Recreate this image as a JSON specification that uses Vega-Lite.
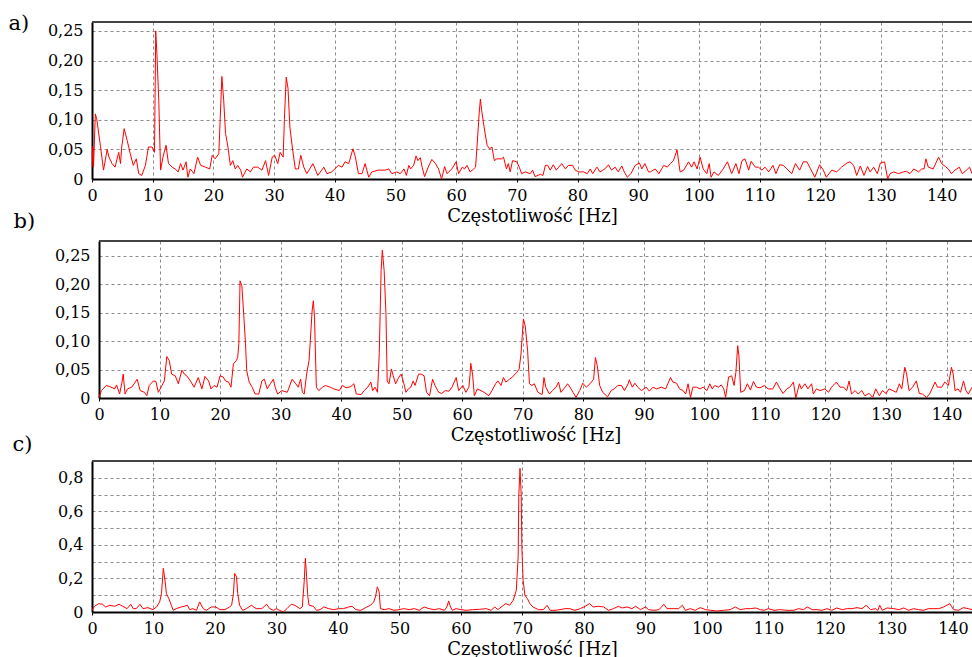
{
  "$schema": "https://vega.github.io/schema/vega-lite/v6.json",
  "background": "white",
  "padding": {"left": 8, "top": 12, "right": 0, "bottom": 0},
  "spacing": -15,
  "config": {
    "view": {"stroke": null},
    "font": "DejaVu Serif",
    "axis": {
      "labelFont": "DejaVu Serif",
      "titleFont": "DejaVu Serif",
      "labelColor": "#000",
      "titleColor": "#000",
      "titleFontWeight": "normal",
      "labelFontSize": 16,
      "labelOverlap": false,
      "gridDash": [3, 3],
      "gridColor": "#8a8a8a",
      "gridWidth": 1,
      "gridOpacity": 1,
      "domainColor": "#000",
      "domainWidth": 2,
      "tickColor": "#000"
    },
    "axisX": {"tickSize": 3, "labelPadding": 5, "titlePadding": 4, "titleFontSize": 18, "labelFlush": false},
    "axisY": {"ticks": false, "labelPadding": 9, "titleAngle": 0, "titleAlign": "left", "titleBaseline": "middle", "titleFontSize": 21}
  },
  "datasets": {
    "a": [
      {"f":0,"a":0.02},{"f":0.15,"a":0.055},{"f":0.25,"a":0.02},{"f":0.55,"a":0.11},{"f":0.8,"a":0.1},{"f":1.4,"a":0.055},{"f":1.9,"a":0.015},{"f":2.5,"a":0.05},{"f":2.8,"a":0.037},{"f":3.3,"a":0.026},{"f":3.8,"a":0.02},{"f":4.4,"a":0.045},{"f":4.7,"a":0.026},{"f":4.9,"a":0.054},{"f":5.3,"a":0.085},{"f":5.8,"a":0.065},{"f":6.3,"a":0.043},{"f":6.8,"a":0.023},{"f":7.3,"a":0.034},{"f":7.7,"a":0.009},{"f":8.2,"a":0.006},{"f":8.8,"a":0.023},{"f":9.3,"a":0.054},{"f":9.9,"a":0.054},{"f":10.3,"a":0.045},{"f":10.5,"a":0.25},{"f":10.7,"a":0.21},{"f":11.0,"a":0.133},{"f":11.3,"a":0.015},{"f":11.7,"a":0.037},{"f":12.2,"a":0.057},{"f":12.6,"a":0.026},{"f":13.2,"a":0.02},{"f":13.7,"a":0.017},{"f":14.2,"a":0.012},{"f":14.6,"a":0.026},{"f":15.0,"a":0.015},{"f":15.5,"a":0.029},{"f":15.8,"a":0.003},{"f":16.2,"a":0.017},{"f":16.8,"a":0.009},{"f":17.4,"a":0.037},{"f":17.9,"a":0.023},{"f":18.7,"a":0.02},{"f":19.4,"a":0.017},{"f":19.8,"a":0.04},{"f":20.3,"a":0.034},{"f":20.9,"a":0.043},{"f":21.15,"a":0.108},{"f":21.4,"a":0.173},{"f":21.7,"a":0.133},{"f":22.0,"a":0.077},{"f":22.4,"a":0.054},{"f":22.8,"a":0.023},{"f":23.2,"a":0.031},{"f":23.6,"a":0.017},{"f":24.0,"a":0.023},{"f":24.5,"a":0.015},{"f":24.8,"a":0.003},{"f":25.5,"a":0.017},{"f":26.1,"a":0.012},{"f":26.6,"a":0.02},{"f":27.3,"a":0.02},{"f":28.0,"a":0.015},{"f":28.6,"a":0.031},{"f":29.1,"a":0.006},{"f":29.7,"a":0.037},{"f":30.1,"a":0.04},{"f":30.6,"a":0.026},{"f":31.0,"a":0.045},{"f":31.5,"a":0.037},{"f":31.7,"a":0.1},{"f":32.0,"a":0.172},{"f":32.3,"a":0.153},{"f":32.6,"a":0.088},{"f":33.0,"a":0.054},{"f":33.5,"a":0.017},{"f":34.0,"a":0.017},{"f":34.4,"a":0.04},{"f":34.9,"a":0.02},{"f":35.4,"a":0.009},{"f":36.4,"a":0.026},{"f":37.2,"a":0.006},{"f":38.2,"a":0.02},{"f":38.7,"a":0.009},{"f":39.5,"a":0.012},{"f":40.0,"a":0.017},{"f":40.6,"a":0.023},{"f":41.2,"a":0.02},{"f":41.7,"a":0.029},{"f":42.3,"a":0.026},{"f":43.0,"a":0.051},{"f":43.4,"a":0.037},{"f":43.9,"a":0.009},{"f":44.5,"a":0.009},{"f":45.0,"a":0.026},{"f":45.6,"a":0.003},{"f":46.1,"a":0.012},{"f":47.2,"a":0.015},{"f":48.3,"a":0.015},{"f":48.9,"a":0.017},{"f":49.4,"a":0.009},{"f":50.2,"a":0.012},{"f":50.8,"a":0.009},{"f":51.4,"a":0.017},{"f":51.8,"a":0.006},{"f":52.2,"a":0.023},{"f":52.5,"a":0.017},{"f":53.0,"a":0.023},{"f":53.4,"a":0.039},{"f":53.7,"a":0.031},{"f":54.1,"a":0.036},{"f":54.4,"a":0.02},{"f":54.8,"a":0.004},{"f":55.4,"a":0.02},{"f":56.0,"a":0.033},{"f":56.6,"a":0.026},{"f":57.1,"a":0.017},{"f":57.6,"a":0.0},{"f":58.1,"a":0.021},{"f":58.5,"a":0.009},{"f":59.3,"a":0.017},{"f":60.0,"a":0.029},{"f":60.4,"a":0.009},{"f":61.0,"a":0.02},{"f":61.4,"a":0.017},{"f":61.8,"a":0.023},{"f":62.3,"a":0.012},{"f":62.9,"a":0.017},{"f":63.2,"a":0.02},{"f":63.4,"a":0.049},{"f":63.8,"a":0.111},{"f":64.0,"a":0.135},{"f":64.2,"a":0.116},{"f":64.6,"a":0.088},{"f":65.1,"a":0.057},{"f":65.5,"a":0.051},{"f":65.9,"a":0.054},{"f":66.3,"a":0.031},{"f":66.7,"a":0.034},{"f":67.5,"a":0.034},{"f":67.8,"a":0.037},{"f":68.3,"a":0.017},{"f":68.6,"a":0.026},{"f":68.9,"a":0.012},{"f":69.3,"a":0.031},{"f":70.0,"a":0.029},{"f":70.4,"a":0.02},{"f":70.8,"a":0.009},{"f":71.4,"a":0.012},{"f":72.2,"a":0.009},{"f":72.6,"a":0.015},{"f":73.0,"a":0.004},{"f":73.9,"a":0.008},{"f":74.3,"a":0.006},{"f":74.7,"a":0.023},{"f":75.1,"a":0.023},{"f":75.5,"a":0.015},{"f":76.0,"a":0.024},{"f":76.5,"a":0.015},{"f":76.9,"a":0.02},{"f":77.4,"a":0.026},{"f":78.0,"a":0.017},{"f":78.5,"a":0.023},{"f":79.2,"a":0.023},{"f":79.6,"a":0.015},{"f":80.2,"a":0.012},{"f":81.0,"a":0.012},{"f":81.6,"a":0.009},{"f":82.1,"a":0.017},{"f":82.5,"a":0.009},{"f":83.2,"a":0.02},{"f":83.7,"a":0.012},{"f":84.5,"a":0.017},{"f":85.1,"a":0.024},{"f":85.6,"a":0.015},{"f":86.2,"a":0.02},{"f":86.7,"a":0.012},{"f":87.3,"a":0.022},{"f":87.7,"a":0.012},{"f":88.2,"a":0.003},{"f":88.8,"a":0.009},{"f":89.5,"a":0.023},{"f":90.2,"a":0.027},{"f":90.6,"a":0.017},{"f":91.1,"a":0.026},{"f":91.7,"a":0.012},{"f":92.0,"a":0.012},{"f":92.8,"a":0.017},{"f":93.4,"a":0.009},{"f":94.2,"a":0.023},{"f":94.8,"a":0.02},{"f":95.3,"a":0.026},{"f":95.8,"a":0.031},{"f":96.4,"a":0.049},{"f":96.9,"a":0.012},{"f":97.5,"a":0.015},{"f":98.3,"a":0.029},{"f":98.8,"a":0.02},{"f":99.2,"a":0.029},{"f":99.7,"a":0.017},{"f":100.2,"a":0.037},{"f":100.7,"a":0.017},{"f":101.3,"a":0.009},{"f":101.7,"a":0.026},{"f":102.0,"a":0.003},{"f":102.5,"a":0.012},{"f":103.2,"a":0.006},{"f":104.0,"a":0.017},{"f":104.7,"a":0.029},{"f":105.4,"a":0.009},{"f":106.1,"a":0.026},{"f":106.6,"a":0.009},{"f":107.1,"a":0.031},{"f":107.6,"a":0.034},{"f":108.2,"a":0.015},{"f":108.6,"a":0.03},{"f":109.3,"a":0.02},{"f":109.8,"a":0.02},{"f":110.4,"a":0.015},{"f":110.9,"a":0.02},{"f":111.5,"a":0.012},{"f":112.2,"a":0.023},{"f":112.7,"a":0.009},{"f":113.3,"a":0.024},{"f":113.9,"a":0.023},{"f":114.5,"a":0.017},{"f":115.3,"a":0.009},{"f":115.9,"a":0.026},{"f":116.6,"a":0.015},{"f":117.2,"a":0.029},{"f":117.8,"a":0.029},{"f":118.4,"a":0.017},{"f":119.1,"a":0.003},{"f":119.9,"a":0.024},{"f":120.5,"a":0.015},{"f":121.0,"a":0.003},{"f":121.9,"a":0.015},{"f":122.7,"a":0.012},{"f":123.5,"a":0.02},{"f":124.4,"a":0.027},{"f":124.9,"a":0.029},{"f":125.5,"a":0.023},{"f":126.0,"a":0.006},{"f":126.6,"a":0.022},{"f":127.2,"a":0.006},{"f":127.8,"a":0.021},{"f":128.2,"a":0.012},{"f":128.8,"a":0.02},{"f":129.4,"a":0.009},{"f":129.9,"a":0.027},{"f":130.6,"a":0.029},{"f":131.1,"a":0.0},{"f":131.5,"a":0.009},{"f":132.1,"a":0.012},{"f":132.9,"a":0.009},{"f":133.7,"a":0.012},{"f":134.2,"a":0.013},{"f":134.8,"a":0.009},{"f":135.4,"a":0.017},{"f":136.2,"a":0.012},{"f":136.7,"a":0.017},{"f":137.1,"a":0.017},{"f":137.4,"a":0.034},{"f":137.8,"a":0.02},{"f":138.6,"a":0.017},{"f":139.5,"a":0.037},{"f":140.0,"a":0.026},{"f":140.6,"a":0.021},{"f":141.1,"a":0.017},{"f":141.6,"a":0.009},{"f":142.2,"a":0.015},{"f":142.9,"a":0.02},{"f":143.4,"a":0.009},{"f":144.1,"a":0.015},{"f":144.6,"a":0.02},{"f":145,"a":0.009}
    ],
    "b": [
      {"f":0,"a":0.001},{"f":0.4,"a":0.013},{"f":1.2,"a":0.022},{"f":1.8,"a":0.02},{"f":2.6,"a":0.016},{"f":2.9,"a":0.023},{"f":3.4,"a":0.007},{"f":3.8,"a":0.028},{"f":4.0,"a":0.042},{"f":4.3,"a":0.007},{"f":4.7,"a":0.016},{"f":5.4,"a":0.019},{"f":6.0,"a":0.028},{"f":6.3,"a":0.033},{"f":6.8,"a":0.013},{"f":7.5,"a":0.01},{"f":7.9,"a":0.004},{"f":8.3,"a":0.022},{"f":9.0,"a":0.03},{"f":9.4,"a":0.029},{"f":9.8,"a":0.01},{"f":10.4,"a":0.022},{"f":10.8,"a":0.03},{"f":11.2,"a":0.073},{"f":11.6,"a":0.066},{"f":12.0,"a":0.042},{"f":12.6,"a":0.039},{"f":13.1,"a":0.025},{"f":13.7,"a":0.049},{"f":14.1,"a":0.042},{"f":14.5,"a":0.039},{"f":15.1,"a":0.03},{"f":15.7,"a":0.019},{"f":16.4,"a":0.036},{"f":17.0,"a":0.016},{"f":17.5,"a":0.038},{"f":18.1,"a":0.03},{"f":18.5,"a":0.016},{"f":19.0,"a":0.022},{"f":19.5,"a":0.019},{"f":20.0,"a":0.039},{"f":20.5,"a":0.037},{"f":20.9,"a":0.03},{"f":21.4,"a":0.028},{"f":21.8,"a":0.019},{"f":22.2,"a":0.06},{"f":22.7,"a":0.066},{"f":22.9,"a":0.071},{"f":23.1,"a":0.095},{"f":23.3,"a":0.206},{"f":23.6,"a":0.197},{"f":23.9,"a":0.148},{"f":24.2,"a":0.095},{"f":24.4,"a":0.048},{"f":24.8,"a":0.028},{"f":25.3,"a":0.019},{"f":25.8,"a":0.007},{"f":26.4,"a":0.007},{"f":26.9,"a":0.03},{"f":27.3,"a":0.033},{"f":27.8,"a":0.016},{"f":28.3,"a":0.025},{"f":28.8,"a":0.033},{"f":29.1,"a":0.019},{"f":29.5,"a":0.007},{"f":30.2,"a":0.013},{"f":31.1,"a":0.01},{"f":31.9,"a":0.033},{"f":32.5,"a":0.025},{"f":32.9,"a":0.019},{"f":33.3,"a":0.033},{"f":33.6,"a":0.01},{"f":33.9,"a":0.007},{"f":34.3,"a":0.042},{"f":34.7,"a":0.066},{"f":34.9,"a":0.1},{"f":35.2,"a":0.153},{"f":35.4,"a":0.171},{"f":35.6,"a":0.142},{"f":35.9,"a":0.019},{"f":36.3,"a":0.013},{"f":36.9,"a":0.019},{"f":37.4,"a":0.022},{"f":38.2,"a":0.019},{"f":38.8,"a":0.016},{"f":39.7,"a":0.013},{"f":40.2,"a":0.022},{"f":40.8,"a":0.018},{"f":41.6,"a":0.02},{"f":42.1,"a":0.025},{"f":42.5,"a":0.007},{"f":43.3,"a":0.006},{"f":43.8,"a":0.013},{"f":44.4,"a":0.019},{"f":44.9,"a":0.028},{"f":45.2,"a":0.013},{"f":45.6,"a":0.019},{"f":46.0,"a":0.01},{"f":46.3,"a":0.08},{"f":46.6,"a":0.224},{"f":46.8,"a":0.26},{"f":47.1,"a":0.224},{"f":47.4,"a":0.148},{"f":47.6,"a":0.03},{"f":47.9,"a":0.025},{"f":48.3,"a":0.051},{"f":48.6,"a":0.039},{"f":49.0,"a":0.025},{"f":49.5,"a":0.036},{"f":49.9,"a":0.042},{"f":50.3,"a":0.028},{"f":50.7,"a":0.01},{"f":51.1,"a":0.016},{"f":51.5,"a":0.019},{"f":51.9,"a":0.03},{"f":52.2,"a":0.022},{"f":52.8,"a":0.042},{"f":53.2,"a":0.042},{"f":53.7,"a":0.039},{"f":54.1,"a":0.01},{"f":54.6,"a":0.004},{"f":55.1,"a":0.033},{"f":55.5,"a":0.022},{"f":56.1,"a":0.01},{"f":56.6,"a":0.008},{"f":57.2,"a":0.013},{"f":57.8,"a":0.012},{"f":58.3,"a":0.019},{"f":59.0,"a":0.036},{"f":59.4,"a":0.013},{"f":60.1,"a":0.022},{"f":60.6,"a":0.01},{"f":61.1,"a":0.019},{"f":61.3,"a":0.042},{"f":61.4,"a":0.061},{"f":61.7,"a":0.042},{"f":62.0,"a":0.004},{"f":62.5,"a":0.016},{"f":63.1,"a":0.013},{"f":63.6,"a":0.01},{"f":64.4,"a":0.004},{"f":64.9,"a":0.013},{"f":65.5,"a":0.025},{"f":65.9,"a":0.03},{"f":66.4,"a":0.022},{"f":66.8,"a":0.036},{"f":67.2,"a":0.028},{"f":67.8,"a":0.033},{"f":68.3,"a":0.037},{"f":69.0,"a":0.045},{"f":69.4,"a":0.051},{"f":69.7,"a":0.077},{"f":70.1,"a":0.139},{"f":70.4,"a":0.127},{"f":70.8,"a":0.083},{"f":71.1,"a":0.025},{"f":71.5,"a":0.022},{"f":71.9,"a":0.025},{"f":72.5,"a":0.01},{"f":73.2,"a":0.006},{"f":73.5,"a":0.036},{"f":73.8,"a":0.019},{"f":74.4,"a":0.007},{"f":74.9,"a":0.013},{"f":75.5,"a":0.019},{"f":75.9,"a":0.028},{"f":76.3,"a":0.01},{"f":77.0,"a":0.019},{"f":77.4,"a":0.025},{"f":77.8,"a":0.019},{"f":78.3,"a":0.01},{"f":78.8,"a":0.001},{"f":79.4,"a":0.013},{"f":79.9,"a":0.026},{"f":80.5,"a":0.019},{"f":81.1,"a":0.025},{"f":81.7,"a":0.033},{"f":82.0,"a":0.071},{"f":82.3,"a":0.057},{"f":82.7,"a":0.022},{"f":83.2,"a":0.01},{"f":84.0,"a":0.002},{"f":84.6,"a":0.013},{"f":85.1,"a":0.016},{"f":85.7,"a":0.022},{"f":86.3,"a":0.022},{"f":86.8,"a":0.013},{"f":87.4,"a":0.025},{"f":87.6,"a":0.032},{"f":88.1,"a":0.019},{"f":88.5,"a":0.026},{"f":89.0,"a":0.019},{"f":89.6,"a":0.013},{"f":90.4,"a":0.019},{"f":90.9,"a":0.012},{"f":91.5,"a":0.019},{"f":92.1,"a":0.016},{"f":92.9,"a":0.019},{"f":93.6,"a":0.016},{"f":94.4,"a":0.036},{"f":94.8,"a":0.028},{"f":95.4,"a":0.026},{"f":95.9,"a":0.016},{"f":96.5,"a":0.013},{"f":96.9,"a":0.007},{"f":97.3,"a":0.025},{"f":97.7,"a":0.001},{"f":98.1,"a":0.019},{"f":98.7,"a":0.019},{"f":99.3,"a":0.016},{"f":99.8,"a":0.019},{"f":100.4,"a":0.013},{"f":100.9,"a":0.025},{"f":101.3,"a":0.016},{"f":101.7,"a":0.022},{"f":102.3,"a":0.019},{"f":102.8,"a":0.023},{"f":103.2,"a":0.016},{"f":103.5,"a":0.001},{"f":104.0,"a":0.037},{"f":104.5,"a":0.039},{"f":104.9,"a":0.022},{"f":105.2,"a":0.045},{"f":105.5,"a":0.092},{"f":105.7,"a":0.074},{"f":106.0,"a":0.01},{"f":106.6,"a":0.013},{"f":107.1,"a":0.025},{"f":107.6,"a":0.014},{"f":108.1,"a":0.029},{"f":108.6,"a":0.019},{"f":109.2,"a":0.018},{"f":109.9,"a":0.022},{"f":110.5,"a":0.016},{"f":111.3,"a":0.016},{"f":111.9,"a":0.028},{"f":112.5,"a":0.016},{"f":113.0,"a":0.008},{"f":113.6,"a":0.016},{"f":114.1,"a":0.019},{"f":114.7,"a":0.028},{"f":115.1,"a":0.0},{"f":115.7,"a":0.025},{"f":116.0,"a":0.016},{"f":116.6,"a":0.025},{"f":117.1,"a":0.016},{"f":117.7,"a":0.025},{"f":118.0,"a":0.007},{"f":118.5,"a":0.016},{"f":119.1,"a":0.013},{"f":119.9,"a":0.016},{"f":120.5,"a":0.01},{"f":121.0,"a":0.019},{"f":121.8,"a":0.028},{"f":122.4,"a":0.019},{"f":123.0,"a":0.019},{"f":123.5,"a":0.013},{"f":123.9,"a":0.03},{"f":124.3,"a":0.007},{"f":124.9,"a":0.013},{"f":125.4,"a":0.007},{"f":126.0,"a":0.013},{"f":126.5,"a":0.004},{"f":127.2,"a":0.008},{"f":127.8,"a":0.001},{"f":128.3,"a":0.016},{"f":128.9,"a":0.004},{"f":129.4,"a":0.013},{"f":130.0,"a":0.008},{"f":130.5,"a":0.016},{"f":131.1,"a":0.013},{"f":131.7,"a":0.01},{"f":132.2,"a":0.025},{"f":132.6,"a":0.016},{"f":133.1,"a":0.054},{"f":133.4,"a":0.042},{"f":133.8,"a":0.013},{"f":134.4,"a":0.019},{"f":135.0,"a":0.03},{"f":135.5,"a":0.008},{"f":136.0,"a":0.007},{"f":136.7,"a":0.001},{"f":137.2,"a":0.007},{"f":138.1,"a":0.028},{"f":138.5,"a":0.019},{"f":139.2,"a":0.019},{"f":139.7,"a":0.028},{"f":140.3,"a":0.022},{"f":140.8,"a":0.054},{"f":141.1,"a":0.042},{"f":141.4,"a":0.013},{"f":141.9,"a":0.016},{"f":142.3,"a":0.01},{"f":142.8,"a":0.03},{"f":143.2,"a":0.013},{"f":143.6,"a":0.007},{"f":144.2,"a":0.019}
    ],
    "c": [
      {"f":0,"a":0.01},{"f":0.4,"a":0.034},{"f":1.1,"a":0.05},{"f":1.7,"a":0.046},{"f":2.2,"a":0.03},{"f":2.9,"a":0.04},{"f":3.7,"a":0.034},{"f":4.4,"a":0.046},{"f":5.0,"a":0.034},{"f":5.7,"a":0.02},{"f":6.3,"a":0.046},{"f":6.7,"a":0.02},{"f":7.2,"a":0.02},{"f":7.8,"a":0.046},{"f":8.3,"a":0.02},{"f":9.1,"a":0.026},{"f":9.9,"a":0.014},{"f":10.5,"a":0.03},{"f":11.0,"a":0.06},{"f":11.3,"a":0.11},{"f":11.6,"a":0.26},{"f":11.9,"a":0.18},{"f":12.1,"a":0.11},{"f":12.5,"a":0.08},{"f":12.9,"a":0.04},{"f":13.2,"a":0.01},{"f":13.7,"a":0.02},{"f":14.5,"a":0.03},{"f":15.0,"a":0.034},{"f":15.5,"a":0.04},{"f":15.9,"a":0.014},{"f":16.4,"a":0.02},{"f":17.0,"a":0.01},{"f":17.5,"a":0.06},{"f":18.1,"a":0.02},{"f":18.6,"a":0.01},{"f":19.4,"a":0.03},{"f":20.1,"a":0.03},{"f":20.8,"a":0.014},{"f":21.6,"a":0.014},{"f":22.4,"a":0.03},{"f":22.7,"a":0.04},{"f":23.0,"a":0.11},{"f":23.2,"a":0.23},{"f":23.5,"a":0.21},{"f":23.7,"a":0.11},{"f":24.0,"a":0.04},{"f":24.5,"a":0.01},{"f":25.1,"a":0.02},{"f":25.9,"a":0.04},{"f":26.7,"a":0.02},{"f":27.6,"a":0.02},{"f":28.4,"a":0.046},{"f":28.9,"a":0.02},{"f":29.5,"a":0.01},{"f":30.0,"a":0.02},{"f":30.5,"a":0.01},{"f":31.1,"a":0.0},{"f":31.7,"a":0.02},{"f":32.4,"a":0.046},{"f":33.0,"a":0.04},{"f":33.8,"a":0.02},{"f":34.2,"a":0.03},{"f":34.5,"a":0.18},{"f":34.7,"a":0.32},{"f":34.9,"a":0.21},{"f":35.1,"a":0.09},{"f":35.3,"a":0.04},{"f":36.0,"a":0.034},{"f":36.5,"a":0.01},{"f":37.1,"a":0.014},{"f":37.7,"a":0.03},{"f":38.5,"a":0.02},{"f":39.3,"a":0.014},{"f":40.1,"a":0.02},{"f":40.9,"a":0.02},{"f":41.7,"a":0.03},{"f":42.3,"a":0.034},{"f":42.9,"a":0.014},{"f":43.7,"a":0.01},{"f":44.2,"a":0.02},{"f":44.7,"a":0.03},{"f":45.3,"a":0.04},{"f":45.8,"a":0.06},{"f":46.1,"a":0.09},{"f":46.4,"a":0.15},{"f":46.7,"a":0.12},{"f":46.9,"a":0.02},{"f":47.5,"a":0.014},{"f":48.3,"a":0.02},{"f":49.1,"a":0.01},{"f":49.9,"a":0.014},{"f":50.7,"a":0.02},{"f":51.6,"a":0.014},{"f":52.4,"a":0.02},{"f":53.2,"a":0.01},{"f":54.0,"a":0.03},{"f":54.8,"a":0.02},{"f":55.6,"a":0.014},{"f":56.5,"a":0.02},{"f":57.3,"a":0.01},{"f":57.7,"a":0.03},{"f":58.0,"a":0.066},{"f":58.3,"a":0.03},{"f":58.6,"a":0.01},{"f":59.2,"a":0.02},{"f":60.0,"a":0.014},{"f":60.8,"a":0.01},{"f":61.9,"a":0.014},{"f":63.0,"a":0.016},{"f":64.1,"a":0.02},{"f":64.9,"a":0.01},{"f":65.5,"a":0.03},{"f":66.0,"a":0.014},{"f":66.7,"a":0.034},{"f":67.3,"a":0.05},{"f":67.9,"a":0.04},{"f":68.5,"a":0.07},{"f":69.0,"a":0.13},{"f":69.3,"a":0.33},{"f":69.4,"a":0.69},{"f":69.6,"a":0.856},{"f":69.8,"a":0.69},{"f":69.9,"a":0.39},{"f":70.1,"a":0.19},{"f":70.4,"a":0.1},{"f":70.8,"a":0.08},{"f":71.2,"a":0.05},{"f":71.7,"a":0.03},{"f":72.6,"a":0.014},{"f":73.4,"a":0.014},{"f":74.0,"a":0.04},{"f":74.5,"a":0.01},{"f":75.3,"a":0.01},{"f":76.1,"a":0.014},{"f":76.9,"a":0.02},{"f":77.7,"a":0.02},{"f":78.5,"a":0.01},{"f":79.4,"a":0.02},{"f":80.2,"a":0.034},{"f":80.9,"a":0.05},{"f":81.5,"a":0.03},{"f":82.4,"a":0.034},{"f":83.2,"a":0.03},{"f":84.0,"a":0.01},{"f":84.8,"a":0.02},{"f":85.6,"a":0.034},{"f":86.2,"a":0.024},{"f":87.0,"a":0.03},{"f":87.8,"a":0.02},{"f":88.4,"a":0.034},{"f":89.2,"a":0.014},{"f":90.0,"a":0.03},{"f":90.5,"a":0.014},{"f":91.4,"a":0.01},{"f":92.2,"a":0.014},{"f":93.0,"a":0.046},{"f":93.5,"a":0.02},{"f":94.6,"a":0.02},{"f":95.4,"a":0.02},{"f":96.0,"a":0.04},{"f":96.5,"a":0.01},{"f":97.3,"a":0.02},{"f":98.1,"a":0.01},{"f":98.9,"a":0.026},{"f":99.8,"a":0.014},{"f":100.6,"a":0.01},{"f":101.6,"a":0.006},{"f":102.7,"a":0.01},{"f":103.8,"a":0.014},{"f":104.6,"a":0.03},{"f":105.4,"a":0.014},{"f":106.3,"a":0.02},{"f":107.1,"a":0.02},{"f":107.9,"a":0.024},{"f":108.7,"a":0.014},{"f":109.3,"a":0.01},{"f":110.0,"a":0.02},{"f":110.9,"a":0.01},{"f":111.9,"a":0.014},{"f":113.0,"a":0.01},{"f":114.1,"a":0.01},{"f":114.9,"a":0.02},{"f":115.7,"a":0.014},{"f":116.3,"a":0.03},{"f":117.1,"a":0.014},{"f":117.9,"a":0.014},{"f":118.7,"a":0.01},{"f":119.5,"a":0.02},{"f":120.3,"a":0.01},{"f":121.1,"a":0.024},{"f":122.0,"a":0.014},{"f":122.8,"a":0.02},{"f":123.6,"a":0.02},{"f":124.4,"a":0.026},{"f":125.2,"a":0.02},{"f":125.9,"a":0.04},{"f":126.6,"a":0.014},{"f":127.4,"a":0.02},{"f":127.8,"a":0.01},{"f":128.1,"a":0.04},{"f":128.5,"a":0.01},{"f":129.3,"a":0.024},{"f":130.4,"a":0.02},{"f":131.2,"a":0.014},{"f":132.0,"a":0.024},{"f":132.8,"a":0.01},{"f":133.6,"a":0.02},{"f":134.4,"a":0.014},{"f":135.2,"a":0.01},{"f":136.0,"a":0.02},{"f":136.9,"a":0.02},{"f":137.7,"a":0.02},{"f":138.5,"a":0.03},{"f":139.5,"a":0.05},{"f":140.1,"a":0.014},{"f":140.9,"a":0.01},{"f":141.7,"a":0.026},{"f":142.5,"a":0.02},{"f":143.1,"a":0.014}
    ]
  },
  "vconcat": [
    {
      "width": 880,
      "height": 157,
      "data": {"name": "a"},
      "layer": [
        {
          "mark": {"type": "line", "color": "#ff0000", "strokeWidth": 1, "clip": true},
          "encoding": {
            "x": {"field": "f", "type": "quantitative", "scale": {"domain": [0, 145], "nice": false, "zero": false},
                  "axis": {"values": [0,10,20,30,40,50,60,70,80,90,100,110,120,130,140], "labelOverlap": false, "title": "Częstotliwość [Hz]"}},
            "y": {"field": "a", "type": "quantitative", "scale": {"domain": [0, 0.265], "nice": false},
                  "axis": {"values": [0,0.05,0.1,0.15,0.2,0.25], "tickCount": 6, "labelOverlap": false, "labelSeparation": 0, "labelExpr": "datum.value == 0 ? '0' : replace(format(datum.value, '.2f'), '.', ',')",
                           "title": "a)", "titleX": -84, "titleY": 1}}
          }
        },
        {
          "mark": {"type": "rule", "color": "#444", "strokeWidth": 1.5},
          "encoding": {"y": {"datum": 0.265, "type": "quantitative",
                  "axis": {"values": [0,0.05,0.1,0.15,0.2,0.25], "tickCount": 6, "labelOverlap": false, "labelSeparation": 0, "labelExpr": "datum.value == 0 ? '0' : replace(format(datum.value, '.2f'), '.', ',')",
                           "title": "a)", "titleX": -84, "titleY": 1}}}
        }
      ]
    },
    {
      "spacing": -11,
      "vconcat": [
        {
          "width": 880,
          "height": 157,
          "data": {"name": "b"},
          "layer": [
            {
              "mark": {"type": "line", "color": "#ff0000", "strokeWidth": 1, "clip": true},
              "encoding": {
                "x": {"field": "f", "type": "quantitative", "scale": {"domain": [0, 144.2], "range": [7, 880], "nice": false, "zero": false},
                      "axis": {"values": [0,10,20,30,40,50,60,70,80,90,100,110,120,130,140], "labelOverlap": false, "title": "Częstotliwość [Hz]"}},
                "y": {"field": "a", "type": "quantitative", "scale": {"domain": [0, 0.276], "nice": false},
                      "axis": {"values": [0,0.05,0.1,0.15,0.2,0.25], "tickCount": 6, "labelOverlap": false, "labelSeparation": 0, "offset": -7, "labelExpr": "datum.value == 0 ? '0' : replace(format(datum.value, '.2f'), '.', ',')",
                               "title": "b)", "titleX": -86, "titleY": -20}}
              }
            },
            {
              "mark": {"type": "rule", "color": "#444", "strokeWidth": 1.5},
              "encoding": {
                "x": {"datum": 0, "type": "quantitative",
                      "axis": {"values": [0,10,20,30,40,50,60,70,80,90,100,110,120,130,140], "labelOverlap": false, "title": "Częstotliwość [Hz]"}},
                "x2": {"datum": 144.2},
                "y": {"datum": 0.276, "type": "quantitative",
                      "axis": {"values": [0,0.05,0.1,0.15,0.2,0.25], "tickCount": 6, "labelOverlap": false, "labelSeparation": 0, "offset": -7, "labelExpr": "datum.value == 0 ? '0' : replace(format(datum.value, '.2f'), '.', ',')",
                               "title": "b)", "titleX": -86, "titleY": -20}}
              }
            }
          ]
        },
        {
          "width": 880,
          "height": 151,
          "data": {"name": "c"},
          "layer": [
            {
              "mark": {"type": "line", "color": "#ff0000", "strokeWidth": 1, "clip": true},
              "encoding": {
                "x": {"field": "f", "type": "quantitative", "scale": {"domain": [0, 143.1], "nice": false, "zero": false},
                      "axis": {"values": [0,10,20,30,40,50,60,70,80,90,100,110,120,130,140], "labelOverlap": false, "title": "Częstotliwość [Hz]"}},
                "y": {"field": "a", "type": "quantitative", "scale": {"domain": [0, 0.9], "nice": false},
                      "axis": {"values": [0,0.1,0.2,0.3,0.4,0.5,0.6,0.7,0.8,0.9], "tickCount": 10, "labelOverlap": false, "labelSeparation": 0, "labelExpr": "datum.value == 0 ? '0' : (round(datum.value * 10) % 2 == 0 ? replace(format(datum.value, '.1f'), '.', ',') : '')",
                               "title": "c)", "titleX": -80, "titleY": -17}}
              }
            },
            {
              "mark": {"type": "rule", "color": "#444", "strokeWidth": 1.5},
              "encoding": {"y": {"datum": 0.9, "type": "quantitative",
                      "axis": {"values": [0,0.1,0.2,0.3,0.4,0.5,0.6,0.7,0.8,0.9], "tickCount": 10, "labelOverlap": false, "labelSeparation": 0, "labelExpr": "datum.value == 0 ? '0' : (round(datum.value * 10) % 2 == 0 ? replace(format(datum.value, '.1f'), '.', ',') : '')",
                               "title": "c)", "titleX": -80, "titleY": -17}}}
            }
          ]
        }
      ]
    }
  ]
}
